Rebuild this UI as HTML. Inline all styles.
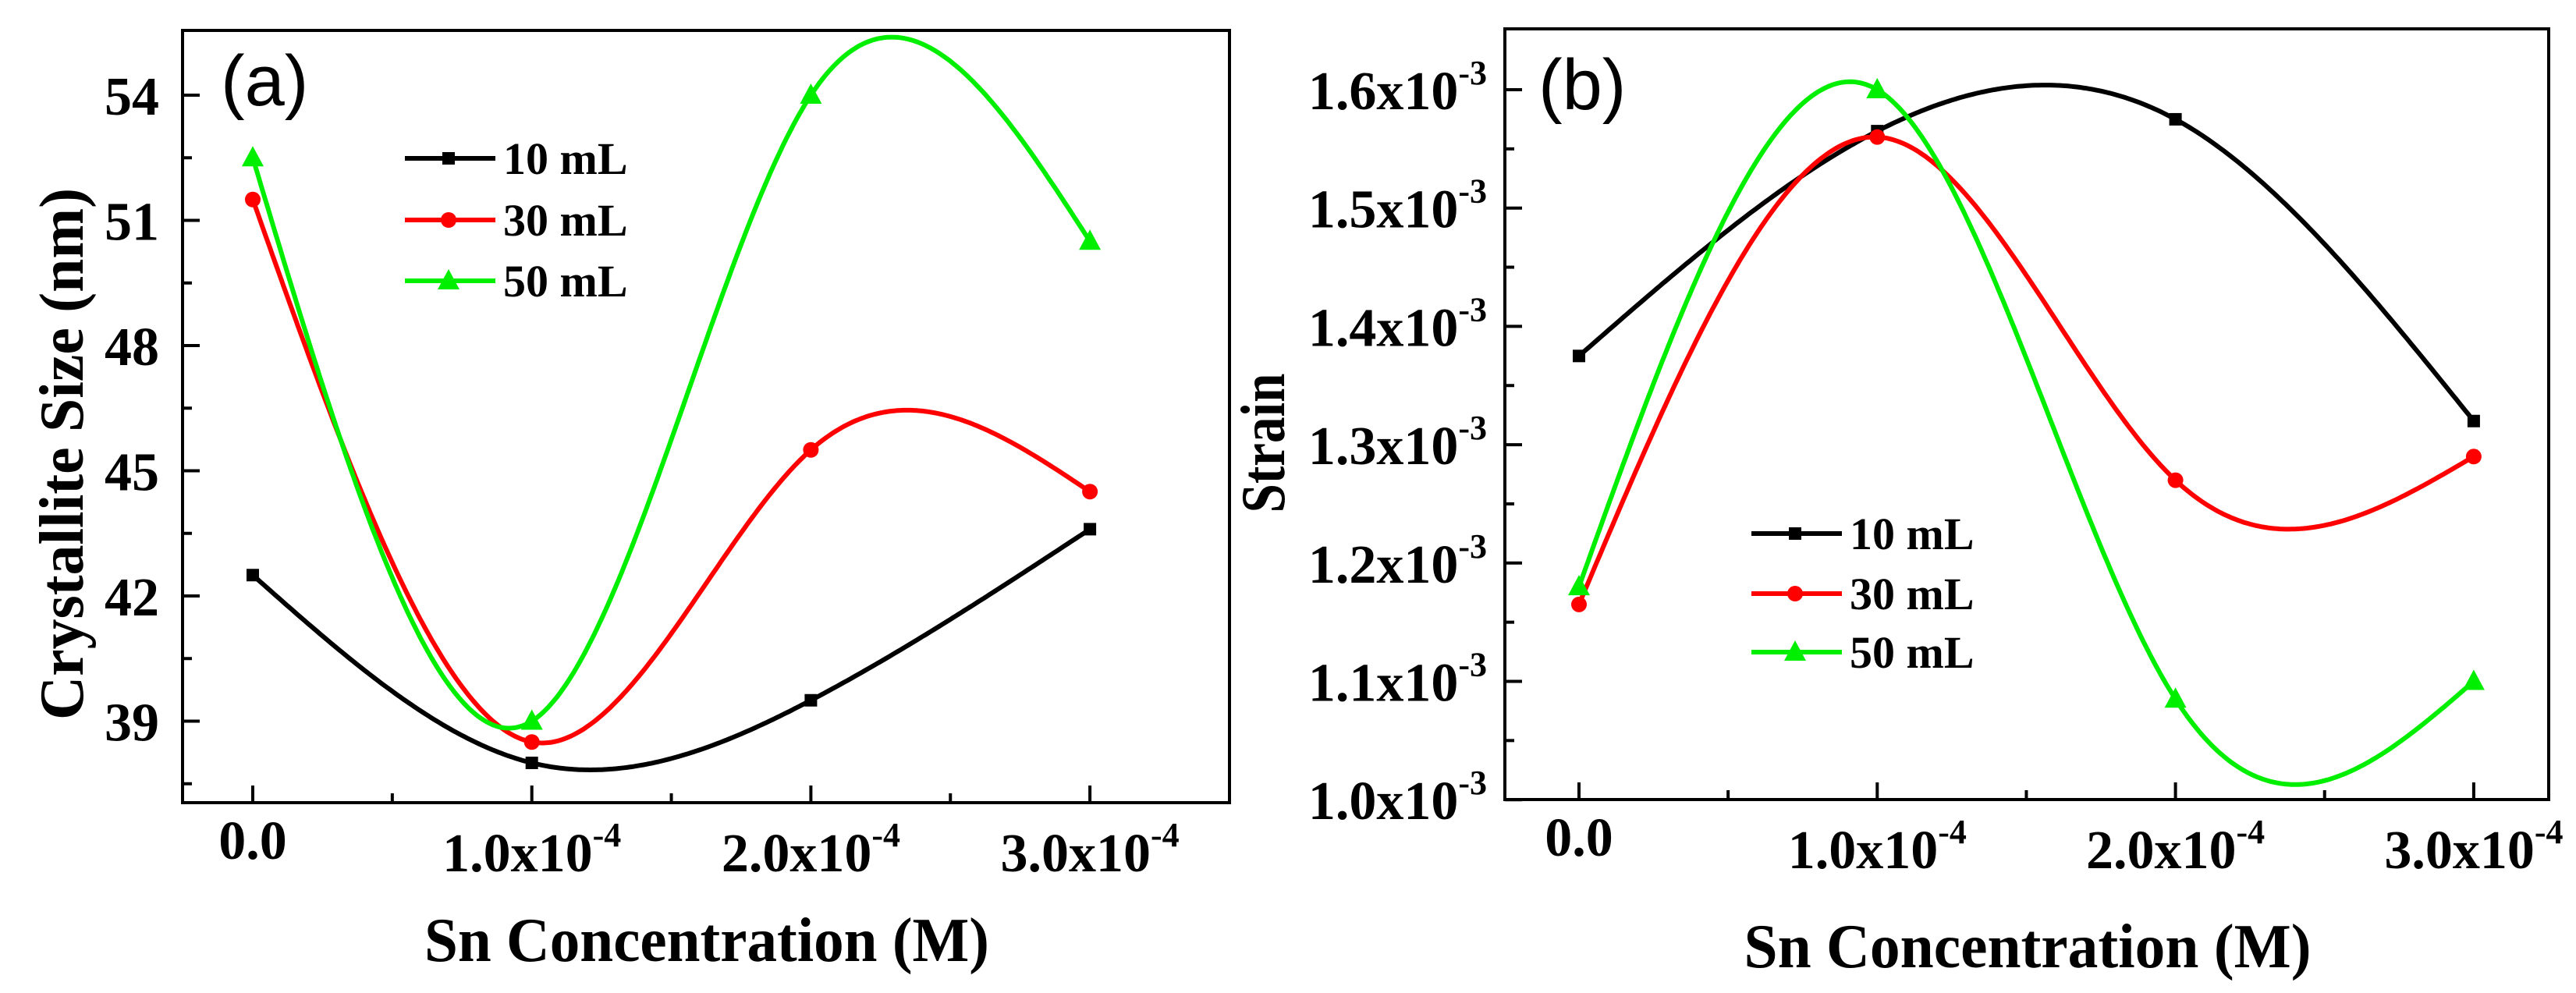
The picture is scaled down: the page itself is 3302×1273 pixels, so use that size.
<!DOCTYPE html>
<html><head><meta charset="utf-8"><style>
html,body{margin:0;padding:0;background:#fff;}
svg{display:block;}
text{font-family:"Liberation Serif",serif;font-weight:bold;fill:#000;}
.lbl{font-family:"Liberation Sans","DejaVu Sans",sans-serif;font-weight:normal;}
</style></head><body>
<svg id="fig" width="3302" height="1273" viewBox="0 0 3302 1273" xmlns="http://www.w3.org/2000/svg"></svg>
<script>
const xValues = [0, 1, 2, 3]; // x10^-4 M
const xTickLabels = ["0.0", "1.0x10", "2.0x10", "3.0x10"];
const seriesNames = ["10 mL", "30 mL", "50 mL"];
const sizeBlack = [42.5, 38.0, 39.5, 43.6];
const sizeRed = [51.5, 38.5, 45.5, 44.5];
const sizeGreen = [52.5, 39.0, 54.0, 50.5];
const sizeTicks = [39, 42, 45, 48, 51, 54];
const strainBlack = [1.375, 1.565, 1.575, 1.32];
const strainRed = [1.165, 1.56, 1.27, 1.29];
const strainGreen = [1.18, 1.60, 1.085, 1.10];
const strainTicks = [1.0, 1.1, 1.2, 1.3, 1.4, 1.5, 1.6];

const NS = "http://www.w3.org/2000/svg";
const svg = document.getElementById("fig");
function mk(tag, attrs, parent) {
  const e = document.createElementNS(NS, tag);
  for (const k in attrs) e.setAttribute(k, attrs[k]);
  (parent || svg).appendChild(e);
  return e;
}
function spline(xs, ys) {
  const n = xs.length; const h = [], al = [], l = [1], mu = [0], z = [0], c = new Array(n).fill(0), b = [], d = [];
  for (let i = 0; i < n - 1; i++) h.push(xs[i+1] - xs[i]);
  for (let i = 1; i < n - 1; i++) al[i] = 3/h[i]*(ys[i+1]-ys[i]) - 3/h[i-1]*(ys[i]-ys[i-1]);
  for (let i = 1; i < n - 1; i++) { l[i] = 2*(xs[i+1]-xs[i-1]) - h[i-1]*mu[i-1]; mu[i] = h[i]/l[i]; z[i] = (al[i]-h[i-1]*z[i-1])/l[i]; }
  z[n-1] = 0;
  for (let j = n - 2; j >= 0; j--) { c[j] = z[j] - mu[j]*c[j+1]; b[j] = (ys[j+1]-ys[j])/h[j] - h[j]*(c[j+1]+2*c[j])/3; d[j] = (c[j+1]-c[j])/(3*h[j]); }
  return function(x) {
    let j = Math.min(n - 2, Math.max(0, Math.floor(x - xs[0])));
    for (let k = 0; k < n - 1; k++) if (x >= xs[k] && x <= xs[k+1]) { j = k; break; }
    const t = x - xs[j];
    return ys[j] + b[j]*t + c[j]*t*t + d[j]*t*t*t;
  };
}
function marker(type, x, y, color, g) {
  let m;
  if (type === 0) m = mk("rect", {x: x-8, y: y-8, width: 16, height: 16, fill: color}, g);
  else if (type === 1) m = mk("circle", {cx: x, cy: y, r: 10, fill: color}, g);
  else m = mk("polygon", {points: `${x},${y-15} ${x-14},${y+11} ${x+14},${y+11}`, fill: color}, g);
  return m;
}
const colors = ["#000000", "#ff0000", "#00ee00"];

function panel(cfg) {
  const g = mk("g", {});
  
  
  const X = v => cfg.x0 + v * cfg.xs;
  const Y = v => cfg.yTop - (v - cfg.yTopVal) * cfg.ys;
  const fr = mk("rect", {x: cfg.L, y: cfg.T, width: cfg.R - cfg.L, height: cfg.B - cfg.T, fill: "none", stroke: "#000", "stroke-width": 4}, g);
  
  
  for (let i = 0; i < xValues.length; i++) {
    const xv = xValues[i];
    mk("line", {x1: X(xv), x2: X(xv), y1: cfg.B, y2: cfg.B - 22, stroke: "#000", "stroke-width": 4}, g);
    if (i < xValues.length - 1) mk("line", {x1: X(xv + 0.5), x2: X(xv + 0.5), y1: cfg.B, y2: cfg.B - 12, stroke: "#000", "stroke-width": 4}, g);
    const t = mk("text", {x: X(xv), y: i === 0 ? cfg.B + 72 : cfg.B + 88, "font-size": 70, "text-anchor": "middle"}, g);
    
    
    if (i === 0) t.textContent = xTickLabels[i];
    else {
      const s1 = mk("tspan", {}, t); s1.textContent = xTickLabels[i];
      const s2 = mk("tspan", {dy: -32, "font-size": 44}, t); s2.textContent = "-4";
    }
  }
  for (let i = 0; i < cfg.yTicks.length; i++) {
    const yv = cfg.yTicks[i];
    mk("line", {x1: cfg.L, x2: cfg.L + 22, y1: Y(yv), y2: Y(yv), stroke: "#000", "stroke-width": 4}, g);
    const ym = yv + cfg.yStep / 2;
    if (Y(ym) > cfg.T + 5) mk("line", {x1: cfg.L, x2: cfg.L + 12, y1: Y(ym), y2: Y(ym), stroke: "#000", "stroke-width": 4}, g);
    const ymm = yv - cfg.yStep / 2;
    if (i === 0 && Y(ymm) < cfg.B - 5) mk("line", {x1: cfg.L, x2: cfg.L + 12, y1: Y(ymm), y2: Y(ymm), stroke: "#000", "stroke-width": 4}, g);
    const t = mk("text", {x: cfg.yLabelX, y: Y(yv) + 25, "font-size": 70, "text-anchor": "end"}, g);
    
    
    if (cfg.sci) {
      const s1 = mk("tspan", {}, t); s1.textContent = yv.toFixed(1) + "x10";
      const s2 = mk("tspan", {dy: -32, "font-size": 44}, t); s2.textContent = "-3";
    } else t.textContent = String(yv);
  }
  cfg.series.forEach((ys, si) => {
    const sg = mk("g", {}, g);
    
    
    const f = spline(xValues, ys);
    let d = "";
    for (let k = 0; k <= 300; k++) { const xv = xValues[0] + (xValues[xValues.length-1] - xValues[0]) * k / 300; d += (k ? "L" : "M") + X(xv).toFixed(1) + "," + Y(f(xv)).toFixed(1); }
    const p = mk("path", {d: d, fill: "none", stroke: colors[si], "stroke-width": 6}, sg);
    
    
    for (let k = 0; k < xValues.length; k++) {
      const m = marker(si, X(xValues[k]), Y(ys[k]), colors[si], sg);
      
      
    }
  });
  const lg = mk("g", {}, g);
  
  
  seriesNames.forEach((nm, si) => {
    const y = cfg.legY[si];
    mk("line", {x1: cfg.legX, x2: cfg.legX + 116, y1: y, y2: y, stroke: colors[si], "stroke-width": 6}, lg);
    marker(si, cfg.legX + 56, y, colors[si], lg);
    const t = mk("text", {x: cfg.legX + 126, y: y + 20, "font-size": 58}, lg);
    
    
    t.textContent = nm;
  });
  const pl = mk("text", {x: cfg.plX, y: cfg.plY, "font-size": 92, class: "lbl"}, g);
  
  
  pl.textContent = cfg.pl;
  const xt = mk("text", {x: cfg.xtX, y: cfg.xtY, "font-size": 80, "text-anchor": "middle", textLength: cfg.xtLen, lengthAdjust: "spacingAndGlyphs"}, g);
  
  
  xt.textContent = "Sn Concentration (M)";
  const yt = mk("text", {x: 0, y: 0, "font-size": 80, "text-anchor": "middle", transform: `translate(${cfg.ytX},${cfg.ytY}) rotate(-90)`, textLength: cfg.ytLen, lengthAdjust: "spacingAndGlyphs"}, g);
  
  
  yt.textContent = cfg.yTitle;
}

panel({name: "panel-a-crystallite-size", L: 234, R: 1576, T: 39, B: 1029, x0: 324, xs: 357.7,
  yTop: 122, yTopVal: 54, ys: 53.5, yStep: 3, yTicks: sizeTicks, sci: false, yLabelX: 204,
  series: [sizeBlack, sizeRed, sizeGreen], legX: 519, legY: [203, 282, 360],
  pl: "(a)", plX: 283, plY: 135, xtX: 906, xtY: 1232, xtLen: 724,
  ytX: 106, ytY: 582, ytLen: 682, yTitle: "Crystallite Size (nm)"});
panel({name: "panel-b-strain", L: 1929, R: 3267, T: 37, B: 1025, x0: 2024, xs: 382.3,
  yTop: 115, yTopVal: 1.6, ys: 1517, yStep: 0.1, yTicks: strainTicks, sci: true, yLabelX: 1906,
  series: [strainBlack, strainRed, strainGreen], legX: 2245, legY: [684, 761, 836],
  pl: "(b)", plX: 1972, plY: 140, xtX: 2599, xtY: 1240, xtLen: 727,
  ytX: 1646, ytY: 568, ytLen: 179, yTitle: "Strain"});
</script>
</body></html>
